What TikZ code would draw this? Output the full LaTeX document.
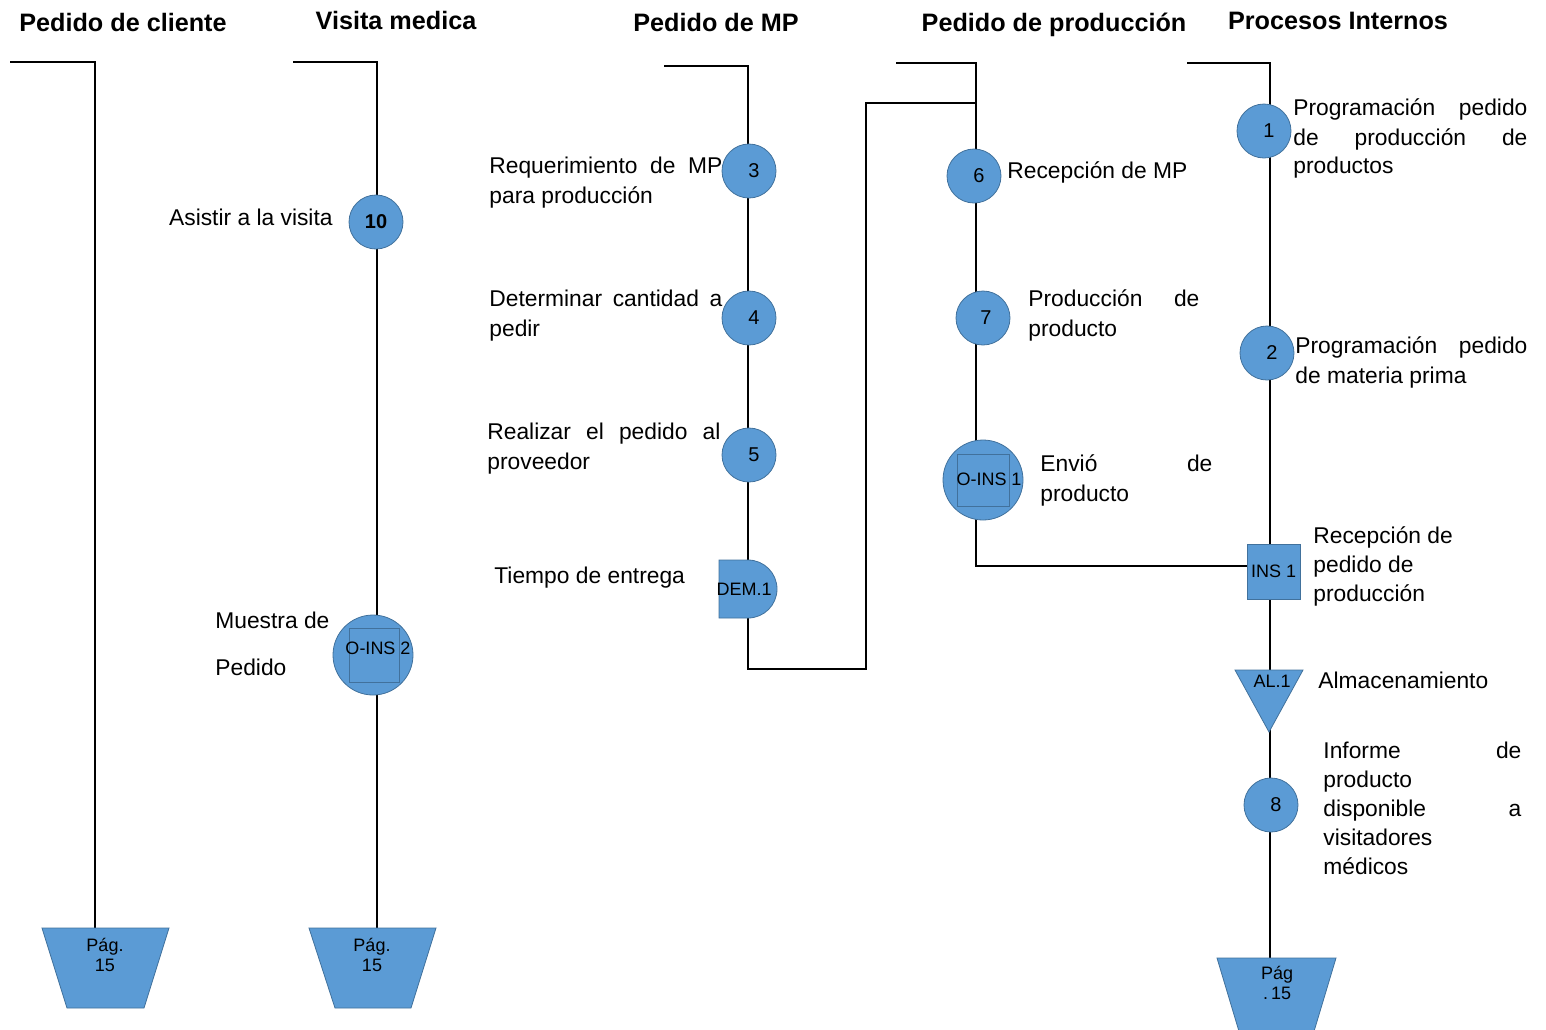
\documentclass[tikz,border=0pt]{standalone}
\usepackage{fontspec}
\setmainfont{Liberation Sans}
\usetikzlibrary{backgrounds}
\definecolor{opblue}{HTML}{5B9BD5}
\definecolor{opedge}{HTML}{41719C}
\newcommand{\jline}[2]{\makebox[#1][s]{#2}}
\begin{document}
\begin{tikzpicture}[x=0.5pt,y=-0.5pt,
  lane/.style={line width=1.35pt,line join=miter,black},
  head/.style={anchor=base,inner sep=0pt,font=\fontsize{12.6}{15}\selectfont\bfseries},
  lbl/.style={anchor=base west,inner sep=0pt,font=\fontsize{11.4}{14}\selectfont},
  opc/.style={circle,fill=opblue,draw=opedge,line width=0.4pt,minimum size=27pt,inner sep=0pt,font=\fontsize{10}{12}\selectfont},
  bigc/.style={circle,fill=opblue,draw=opedge,line width=0.4pt,minimum size=40pt,inner sep=0pt},
  sq/.style={rectangle,draw=opedge,line width=0.5pt,inner sep=0pt},
  symtxt/.style={inner sep=0pt,font=\fontsize{9}{11}\selectfont},
  symfill/.style={fill=opblue,draw=opedge,line width=0.4pt},
  pagbox/.style={rectangle,inner sep=0pt,minimum width=63.5pt,minimum height=40pt},
  pagtxt/.style={inner sep=0pt,font=\fontsize{9}{10.5}\selectfont},
]
\useasboundingbox (0,0) rectangle (1546,1029);

% ---------- headers ----------
\node[head] (h1) at (123,31) {Pedido de cliente};
\node[head] (h2) at (396,29) {Visita medica};
\node[head] (h3) at (716,31) {Pedido de MP};
\node[head] (h4) at (1054,31) {Pedido de producción};
\node[head] (h5) at (1338,29) {Procesos Internos};

% ---------- lane corners ----------
\coordinate (c1a) at (10,62);   \coordinate (c1b) at (95,62);
\coordinate (c2a) at (293,62);  \coordinate (c2b) at (377,62);
\coordinate (c3a) at (664,66);  \coordinate (c3b) at (748,66);
\coordinate (c3c) at (748,669); \coordinate (c3d) at (866,669);
\coordinate (c3e) at (866,103); \coordinate (c3f) at (976,103);
\coordinate (c4a) at (896,63);  \coordinate (c4b) at (976,63);
\coordinate (c4c) at (976,566);
\coordinate (c5a) at (1187,63); \coordinate (c5b) at (1270,63);

% ---------- off-page connectors ----------
\fill[symfill] (42,928) -- (169,928) -- (144,1008) -- (67,1008) -- cycle;
\node[pagbox] (p1) at (105.5,968) {};
\node[pagtxt] (p1t) at (105,957) {\begin{tabular}{@{}c@{}}Pág.\\[-0.5pt]15\end{tabular}};
\fill[symfill] (309,928) -- (436,928) -- (411,1008) -- (335,1008) -- cycle;
\node[pagbox] (p2) at (372.5,968) {};
\node[pagtxt] (p2t) at (372,957) {\begin{tabular}{@{}c@{}}Pág.\\[-0.5pt]15\end{tabular}};
\fill[symfill] (1217,958) -- (1336,958) -- (1312,1038) -- (1241,1038) -- cycle;
\node[pagbox,minimum width=59.5pt] (p5) at (1276.5,998) {};
\node[pagtxt] (p5t) at (1277,985) {\begin{tabular}{@{}c@{}}Pág\\[-0.5pt].\,15\end{tabular}};

% ---------- Visita medica ----------
\node[opc,font=\fontsize{10}{12}\selectfont\bfseries] (n10) at (376,222) {10};
\node[bigc] (oins2) at (373,655) {};
\node[sq,minimum width=25pt,minimum height=27pt] (oins2sq) at (374,655) {};
\node[symtxt] (oins2t) at (378,648) {O-INS 2};

% ---------- Pedido de MP ----------
\node[opc] (n3) at (749,171) {\kern5pt 3};
\node[opc] (n4) at (749,318) {\kern5pt 4};
\node[opc] (n5) at (749,455) {\kern5pt 5};
\fill[symfill] (719,560) -- (748,560) arc[start angle=-90,end angle=90,radius=29] -- (719,618) -- cycle;
\node[symtxt] (dem1) at (744,589) {DEM.1};

% ---------- Pedido de producción ----------
\node[opc] (n6) at (974,176) {\kern5pt 6};
\node[opc] (n7) at (983,318) {\kern3pt 7};
\node[bigc] (oins1) at (983,480) {};
\node[sq,minimum width=26pt,minimum height=26pt] (oins1sq) at (983,480) {};
\node[symtxt] (oins1t) at (989,479) {O-INS 1};

% ---------- Procesos Internos ----------
\node[opc] (n1) at (1264,131) {\kern5pt 1};
\node[opc] (n2) at (1267,353) {\kern5pt 2};
\node[sq,fill=opblue,minimum width=26.5pt,minimum height=27.5pt,font=\fontsize{9}{11}\selectfont] (ins1) at (1273.5,571.5) {INS 1};
\fill[symfill] (1235,670) -- (1303,670) -- (1269,732) -- cycle;
\node[symtxt] (al1) at (1272,681) {AL.1};
\node[opc] (n8) at (1271,805) {\kern5pt 8};

% ---------- flow lines ----------
\begin{scope}[on background layer]
  \draw[lane] (c1a) -- (c1b) -- (c1b |- p1.north);
  \draw[lane] (c2a) -- (c2b) -- (c2b |- p2.north);
  \draw[lane] (c3a) -- (c3b) -- (c3c) -- (c3d) -- (c3e) -- (c3f);
  \draw[lane] (c4a) -- (c4b) -- (c4c) -- (ins1.west |- c4c);
  \draw[lane] (c5a) -- (c5b) -- (c5b |- p5.north);
\end{scope}

% ---------- activity texts ----------
\node[lbl,anchor=base east] (t10) at (333,225) {Asistir a la visita};
\node[lbl] (to2a) at (215,628) {Muestra de};
\node[lbl] (to2b) at (215,675) {Pedido};

\node[lbl] (t3a) at (489,173) {\jline{116.5pt}{Requerimiento de MP}};
\node[lbl] (t3b) at (489,203) {para producción};
\node[lbl] (t4a) at (489,306) {\jline{116.5pt}{Determinar cantidad a}};
\node[lbl] (t4b) at (489,336) {pedir};
\node[lbl] (t5a) at (487,439) {\jline{116.5pt}{Realizar el pedido al}};
\node[lbl] (t5b) at (487,469) {proveedor};
\node[lbl] (td1) at (494,583) {Tiempo de entrega};

\node[lbl] (t6) at (1007,178) {Recepción de MP};
\node[lbl] (t7a) at (1028,306) {\jline{85.5pt}{Producción de}};
\node[lbl] (t7b) at (1028,336) {producto};
\node[lbl] (to1a) at (1040,471) {\jline{86pt}{Envió de}};
\node[lbl] (to1b) at (1040,501) {producto};

\node[lbl] (t1a) at (1293,115) {\jline{117pt}{Programación pedido}};
\node[lbl] (t1b) at (1293,145) {\jline{117pt}{de producción de}};
\node[lbl] (t1c) at (1293,173) {productos};
\node[lbl] (t2a) at (1295,353) {\jline{116pt}{Programación pedido}};
\node[lbl] (t2b) at (1295,383) {de materia prima};
\node[lbl] (ti1a) at (1313,543) {Recepción de};
\node[lbl] (ti1b) at (1313,572) {pedido de};
\node[lbl] (ti1c) at (1313,601) {producción};
\node[lbl] (tal) at (1318,688) {Almacenamiento};
\node[lbl] (t8a) at (1323,758) {\jline{99pt}{Informe de}};
\node[lbl] (t8b) at (1323,787) {producto};
\node[lbl] (t8c) at (1323,816) {\jline{99pt}{disponible a}};
\node[lbl] (t8d) at (1323,845) {visitadores};
\node[lbl] (t8e) at (1323,874) {médicos};
\end{tikzpicture}
\end{document}
